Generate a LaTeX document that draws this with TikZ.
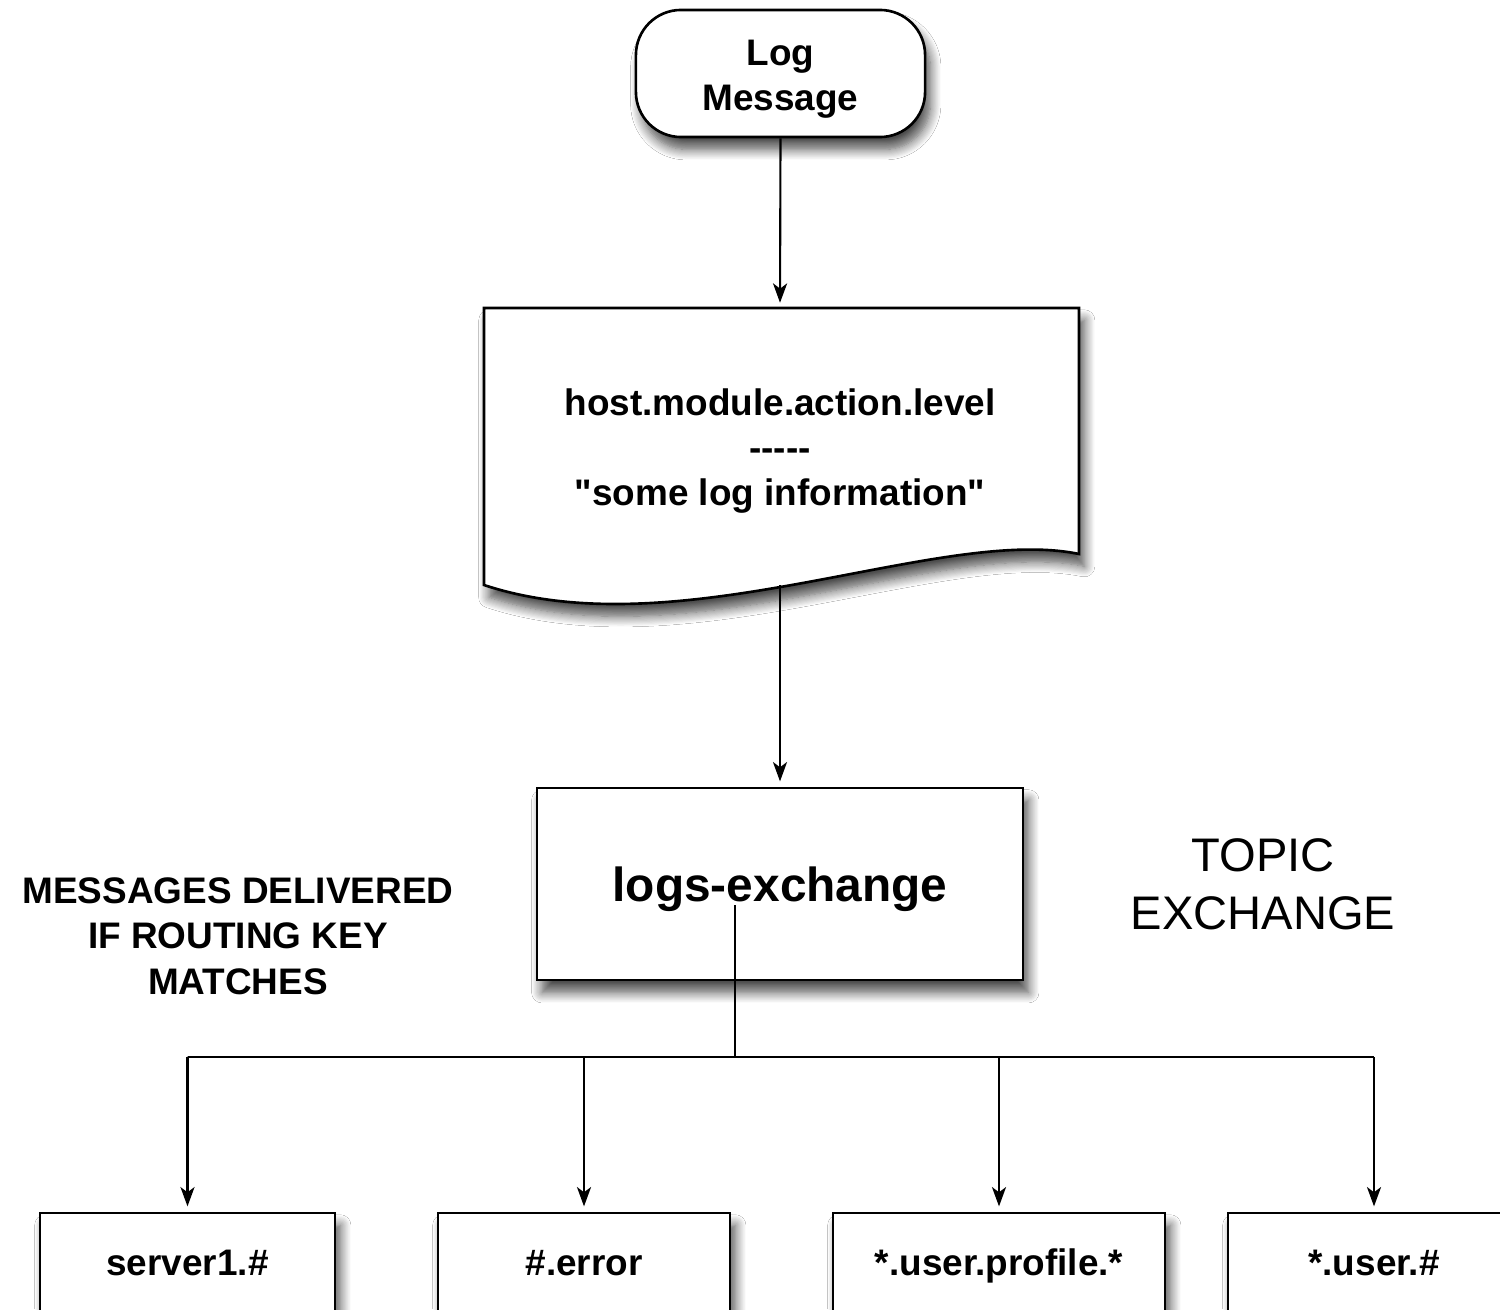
\documentclass[tikz,border=0pt]{standalone}
\usepackage{fontspec}
\setmainfont{Liberation Sans}[Ligatures=TeXOff]
\usetikzlibrary{arrows.meta,shadows.blur}

\tikzset{
  shade/.style={blur shadow={shadow xshift=1.5pt, shadow yshift=-3.5pt,
      shadow blur steps=10, shadow opacity=70, shadow blur radius=3pt}},
  boxline/.style={draw=black, line width=0.75pt, fill=white},
  terminal/.style={boxline, shade, rounded corners=0.45cm,
      minimum width=2.89cm, minimum height=1.27cm, align=center,
      text height=23pt,
      font=\bfseries\fontsize{10.5pt}{12.8pt}\selectfont},
  procbox/.style={boxline, shade, minimum width=4.86cm, minimum height=1.92cm,
      text height=12.7pt, text depth=2.9pt,
      font=\bfseries\fontsize{13.6pt}{16pt}\selectfont},
  queuebox/.style={boxline, shade, minimum height=1.06cm,
      text height=8pt, text depth=2.5pt,
      font=\bfseries\fontsize{10.5pt}{12.8pt}\selectfont},
  doctext/.style={align=center, font=\bfseries\fontsize{10.5pt}{12.8pt}\selectfont},
  flow/.style={draw=black, line width=0.6pt,
      -{Stealth[length=5.5pt,width=4pt,inset=1.5pt]}, shorten >=1.5pt},
  plain/.style={draw=black, line width=0.6pt},
  caption/.style={align=center, font=\bfseries\fontsize{10.5pt}{13pt}\selectfont},
  bigcaption/.style={align=center, font=\fontsize{13.4pt}{16.5pt}\selectfont},
}

\begin{document}
\begin{tikzpicture}[x=0.01cm, y=-0.01cm]
  \useasboundingbox (0,0) rectangle (1500,1309);
  \clip (0,0) rectangle (1500,1309);
  \fill[white] (0,0) rectangle (1500,1309);

  % incoming message
  \node[terminal] (msg) at (780.5,73.5) {Log\\Message};

  % message document with wavy foot
  \draw[boxline, shade] (484,308) -- (1079,308) -- (1079,554)
     .. controls (940,525) and (680,650) .. (484,585) -- cycle;
  \node[doctext, minimum width=5.95cm, minimum height=1cm] (doc) at (780,451)
     {host.module.action.level\\-----\\"some log information"};
  \coordinate (doctop) at (780,308);
  \coordinate (docfoot) at (780,585);

  % exchange
  \node[procbox] (ex) at (780,884) {logs-exchange};
  \coordinate (exout) at (735,905);
  \coordinate (split) at (735,1057);

  % side captions
  \node[caption] (note) at (238,936) {MESSAGES DELIVERED\\IF ROUTING KEY\\MATCHES};
  \node[bigcaption] (kind) at (1263,884) {TOPIC\\EXCHANGE};

  % bound queues
  \node[queuebox, minimum width=2.95cm] (q1) at (187.5,1266) {server1.\#};
  \node[queuebox, minimum width=2.92cm] (q2) at (584,1266) {\#.error};
  \node[queuebox, minimum width=3.32cm] (q3) at (999,1266) {*.user.profile.*};
  \node[queuebox, minimum width=2.92cm] (q4) at (1374,1266) {*.user.\#};

  % connectors
  \draw[flow] (msg.south) -- (doctop);
  \draw[flow] (docfoot) -- (ex.north);
  \draw[plain] (exout) -- (split);
  \draw[plain] (split) -- (split -| q1.north) -- (split -| q4.north);
  \foreach \q in {q1,q2,q3,q4}
    \draw[flow] (split -| \q.north) -- (\q.north);
\end{tikzpicture}
\end{document}
